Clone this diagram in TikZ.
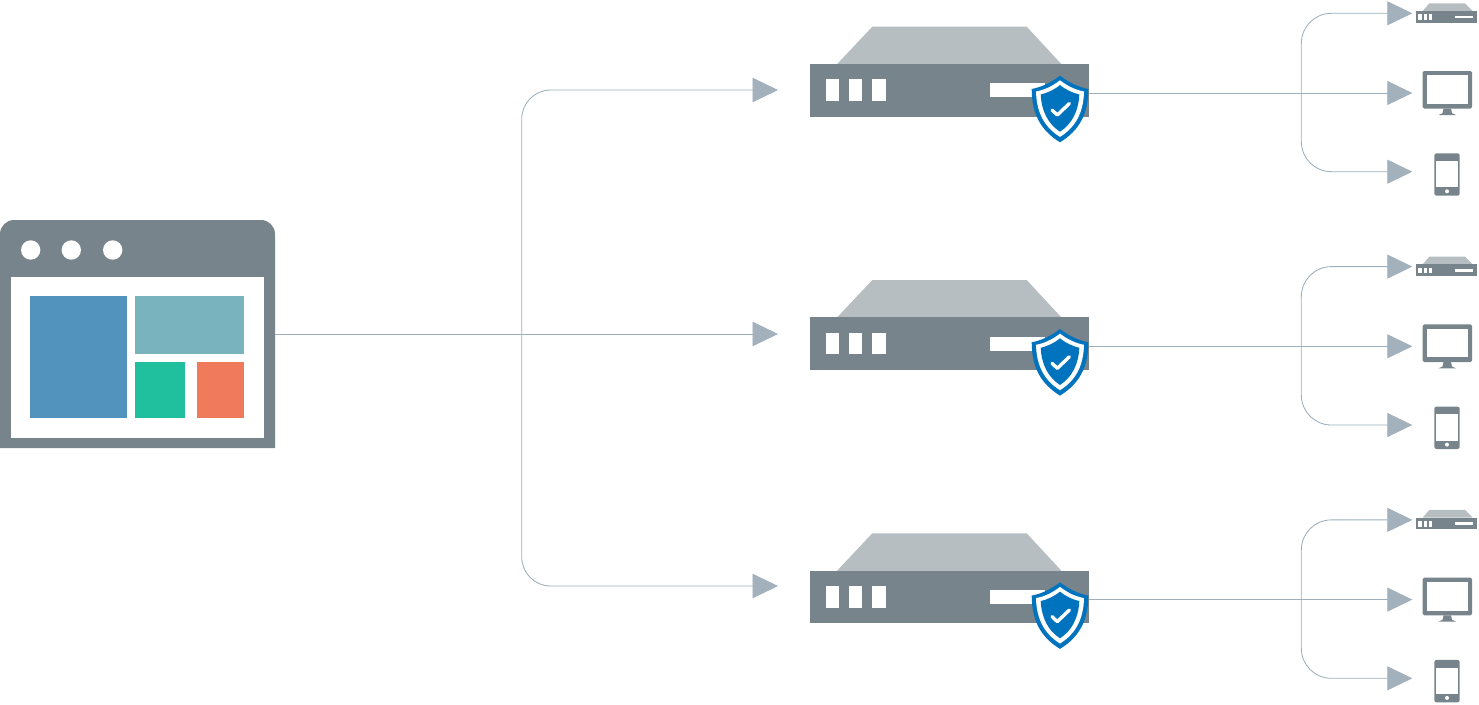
\documentclass[tikz,border=0pt]{standalone}
\usetikzlibrary{arrows.meta}
\definecolor{slate}{HTML}{78848B}
\definecolor{lightslate}{HTML}{B6BEC1}
\definecolor{shieldblue}{HTML}{0073BF}
\definecolor{tileblue}{HTML}{5293BD}
\definecolor{tileteal}{HTML}{79B3BD}
\definecolor{tilegreen}{HTML}{20BF9D}
\definecolor{tileorange}{HTML}{F07B5C}
\definecolor{wire}{HTML}{9DAFBC}
\definecolor{tipcol}{HTML}{A3B1BC}
\tikzset{
  plain/.style={inner sep=0pt,outer sep=0pt,draw=none},
  conn/.style={draw=wire,line width=0.85pt,rounded corners=29pt,
    -{Triangle[length=25.5pt,width=24.5pt,fill=tipcol,color=tipcol]}},
  devconn/.style={draw=wire,line width=0.85pt,rounded corners=30pt,
    -{Triangle[length=25pt,width=24pt,fill=tipcol,color=tipcol]}},
  tick/.style={draw=white,line width=3.4pt,line cap=round,line join=round},
}
\begin{document}
\begin{tikzpicture}[x=1pt,y=-1pt]
\useasboundingbox (0,0) rectangle (1479,704);
% browser window
\fill[slate] (0,448) -- (0,234) .. controls (0,226.3) and (6.3,220) .. (14,220)
  -- (261,220) .. controls (268.7,220) and (275,226.3) .. (275,234) -- (275,448) -- cycle;
\node[plain,minimum width=275pt,minimum height=228pt] (browser) at (137.5,334) {};
\fill[white] (10.7,276.7) rectangle (263.7,437.7);
\foreach \cx in {30.7,71.3,112.7} \fill[white] (\cx,250) circle[radius=9.7];
\fill[tileblue] (30,296) rectangle (127,417.7);
\fill[tileteal] (135,296) rectangle (244.3,353.7);
\fill[tilegreen] (135,362.3) rectangle (185,417.7);
\fill[tileorange] (197,362.3) rectangle (244.3,417.7);
% main connectors
\coordinate (mainhub) at (521.7,334);
\coordinate (maintip1) at (778,90);
\coordinate (maintip2) at (778,334);
\coordinate (maintip3) at (778,586);
\draw[conn] (mainhub) |- (maintip1);
\draw[conn] (mainhub) |- (maintip3);
\draw[conn] (browser.east) -- (maintip2);
% rows
\foreach \i/\off in {1/0,2/253.3,3/506.6}{
\begin{scope}[shift={(0,\off)}]
  % connectors
  \coordinate (out\i) at (1089,93);
  \coordinate (hub\i) at (1301.3,93);
  \coordinate (devtop\i) at (1412.3,13.3);
  \coordinate (devmid\i) at (1412.3,93);
  \coordinate (devbot\i) at (1412.3,171.7);
  \draw[devconn] (hub\i) |- (devtop\i);
  \draw[devconn] (hub\i) |- (devbot\i);
  \draw[devconn] (out\i) -- (devmid\i);
  % server
  \fill[lightslate] (836.7,64.5) -- (872.3,26.7) -- (1026.7,26.7) -- (1061.7,64.5) -- cycle;
  \node[plain,fill=slate,minimum width=279.3pt,minimum height=52.7pt] (server\i) at (949.35,90.35) {};
  \fill[white] (826,79.3) rectangle (839.3,101);
  \fill[white] (849.3,79.3) rectangle (862.3,101);
  \fill[white] (872.3,79.3) rectangle (886,101);
  \fill[white] (990,83.3) rectangle (1045,97.3);
  % shield
  \fill[shieldblue] (1060,75.7) .. controls (1051,82.5) and (1042,87) .. (1031.7,89)
    .. controls (1031.7,113) and (1040,130) .. (1060,142.3)
    .. controls (1080,130) and (1088.3,113) .. (1088.3,89)
    .. controls (1078,87) and (1069,82.5) .. (1060,75.7) -- cycle;
  \fill[white] (1060,80.3) .. controls (1052,86.5) and (1044,90) .. (1036,91.5)
    .. controls (1036.5,112) and (1044,127) .. (1060,136.9)
    .. controls (1076,127) and (1083.5,112) .. (1084,91.5)
    .. controls (1076,90) and (1068,86.5) .. (1060,80.3) -- cycle;
  \fill[shieldblue] (1060,85) .. controls (1054,90) and (1047,93) .. (1040.7,94.5)
    .. controls (1041.5,111) and (1048,124) .. (1060,131.7)
    .. controls (1072,124) and (1078.5,111) .. (1079.3,94.5)
    .. controls (1073,93) and (1066,90) .. (1060,85) -- cycle;
  \draw[tick] (1052,110) -- (1057.3,115) -- (1069.3,103.5);
  % small server
  \fill[lightslate] (1422.7,11) -- (1429.3,3.3) -- (1465,3.3) -- (1472.7,11) -- cycle;
  \node[plain,fill=slate,minimum width=61.6pt,minimum height=11.7pt] (minisrv\i) at (1446.5,16.85) {};
  \fill[white] (1418.3,14.3) rectangle (1421.7,20);
  \fill[white] (1423.7,14.3) rectangle (1427,20);
  \fill[white] (1429,14.3) rectangle (1432.3,20);
  \fill[white] (1455,15.7) rectangle (1473.3,18.4);
  % monitor
  \fill[slate] (1424.2,71) -- (1470.5,71) -- (1472,72.5) -- (1472,107.2) -- (1470.5,108.7)
    -- (1424.2,108.7) -- (1422.7,107.2) -- (1422.7,72.5) -- cycle;
  \node[plain,fill=white,minimum width=41.3pt,minimum height=28.7pt] (monitor\i) at (1447.35,89.65) {};
  \fill[slate] (1443.5,108.7) -- (1451,108.7) -- (1452,113.2) -- (1456,115) -- (1438.5,115) -- (1442.5,113.2) -- cycle;
  % phone
  \fill[slate,rounded corners=2.2pt] (1434.3,153.3) rectangle (1459.7,195.7);
  \node[plain,fill=white,minimum width=21.4pt,minimum height=26.3pt] (phone\i) at (1447,174.15) {};
  \fill[white] (1447,191.3) circle[radius=2];
\end{scope}
}
\end{tikzpicture}
\end{document}
